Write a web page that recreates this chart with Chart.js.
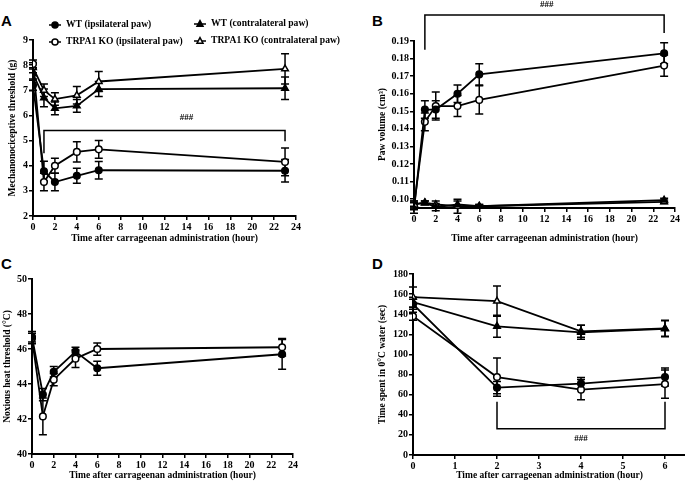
<!DOCTYPE html>
<html lang="en">
<head>
<meta charset="UTF-8">
<title>TRPA1 KO after carrageenan</title>
<script src="https://cdn.jsdelivr.net/npm/chart.js"></script>
<style>
  body { margin: 0; width: 685px; height: 485px; overflow: hidden; background: #fff; position: relative; }
  canvas { position: absolute; }
  .tag { position: absolute; font: bold 15px "Liberation Sans", Arial, sans-serif; line-height: 1; color: #000; }
</style>
</head>
<body>
<div class="tag" style="left:1px;top:13px">A</div>
<div class="tag" style="left:372px;top:13px">B</div>
<div class="tag" style="left:1px;top:256px">C</div>
<div class="tag" style="left:372px;top:256px">D</div>
<canvas id="chartA" width="345" height="250" style="left:0;top:0"></canvas>
<canvas id="chartB" width="345" height="250" style="left:340px;top:0"></canvas>
<canvas id="chartC" width="345" height="240" style="left:0;top:245px"></canvas>
<canvas id="chartD" width="360" height="240" style="left:340px;top:245px"></canvas>

<script>
// time points (hour)
const hours = [0, 1, 2, 4, 6, 23];
const coldHours = [0, 2, 4, 6];

const seriesNames = ["WT (ipsilateral paw)", "TRPA1 KO (ipsilateral paw)",
                     "WT (contralateral paw)", "TRPA1 KO (contralateral paw)"];

// A: mechanonociceptive threshold (g), mean and error
const mechWtIpsi = [7.2, 3.78, 3.35, 3.6, 3.82, 3.8];
const mechWtIpsiErr = [0.2, 0.4, 0.35, 0.3, 0.35, 0.45];
const mechKoIpsi = [8.05, 3.35, 4.0, 4.55, 4.65, 4.15];
const mechKoIpsiErr = [0.15, 0.35, 0.3, 0.4, 0.35, 0.55];
const mechWtContra = [7.65, 6.7, 6.28, 6.38, 7.05, 7.08];
const mechWtContraErr = [0.2, 0.35, 0.25, 0.25, 0.3, 0.45];
const mechKoContra = [7.9, 7.0, 6.65, 6.8, 7.35, 7.85];
const mechKoContraErr = [0.2, 0.25, 0.25, 0.35, 0.4, 0.6];

// B: paw volume (cm3)
const volWtIpsi = [0.094, 0.151, 0.151, 0.160, 0.171, 0.183];
const volWtIpsiErr = [0.002, 0.005, 0.005, 0.005, 0.006, 0.006];
const volKoIpsi = [0.096, 0.144, 0.153, 0.153, 0.1565, 0.176];
const volKoIpsiErr = [0.002, 0.005, 0.008, 0.006, 0.008, 0.006];
const volWtContra = [0.097, 0.098, 0.0955, 0.097, 0.096, 0.0995];
const volWtContraErr = [0.002, 0.001, 0.002, 0.002, 0.001, 0.001];
const volKoContra = [0.097, 0.098, 0.097, 0.096, 0.096, 0.0985];
const volKoContraErr = [0.002, 0.001, 0.002, 0.004, 0.001, 0.001];

// C: noxious heat threshold (degC)
const heatWt = [46.7, 43.4, 44.7, 45.85, 44.9, 45.7];
const heatWtErr = [0.3, 0.35, 0.3, 0.25, 0.4, 0.85];
const heatKo = [46.6, 42.15, 44.25, 45.45, 46.0, 46.1];
const heatKoErr = [0.3, 1.05, 0.35, 0.5, 0.35, 0.5];

// D: time spent in 0 degC water (sec)
const coldWtIpsi = [150, 67, 71, 77.5];
const coldWtIpsiErr = [5, 6, 6, 9];
const coldKoIpsi = [138, 77.5, 65, 70.5];
const coldKoIpsiErr = [4, 19, 10, 14];
const coldWtContra = [152, 128, 122, 125.5];
const coldWtContraErr = [5, 11, 7, 8];
const coldKoContra = [157, 153, 123, 126];
const coldKoContraErr = [10, 15, 6, 8];

// tick labels
const hourTicks = [0, 2, 4, 6, 8, 10, 12, 14, 16, 18, 20, 22, 24];
const coldHourTicks = [0, 1, 2, 3, 4, 5, 6];
const mechTicks = [2, 3, 4, 5, 6, 7, 8, 9];
const volTicks = [0.10, 0.11, 0.12, 0.13, 0.14, 0.15, 0.16, 0.17, 0.18, 0.19];
const heatTicks = [40, 42, 44, 46, 48, 50];
const coldTicks = [0, 20, 40, 60, 80, 100, 120, 140, 160, 180];

// significance brackets: [x from, x to], [left leg end, level, right leg end], mark position
const mechBracketX = [1, 23], mechBracketY = [4.5, 5.4, 4.97], mechMarkAt = [14, 5.9];
const volBracketX = [1, 23], volBracketY = [0.185, 0.2048, 0.1946], volMarkAt = [12.2, 0.2105];
const coldBracketX = [2, 6], coldBracketY = [53, 26, 53], coldMarkAt = [4, 16];

const tickFont = { family: "'Liberation Serif', 'Times New Roman', serif", size: 10, weight: "bold" };
const titleFont = { family: "'Liberation Serif', 'Times New Roman', serif", size: 9.5, weight: "bold" };

function drawMarker(ctx, style, open, x, y, r) {
    ctx.beginPath();
    if (style === "triangle") {
        ctx.moveTo(x, y - r * 1.15);
        ctx.lineTo(x + r, y + r * 0.75);
        ctx.lineTo(x - r, y + r * 0.75);
        ctx.closePath();
    } else {
        ctx.arc(x, y, r, 0, Math.PI * 2);
    }
    ctx.fillStyle = open ? "#fff" : "#000";
    ctx.fill();
    ctx.stroke();
}

const errorBars = {
    id: "errorBars",
    beforeDatasetsDraw(chart) {
        const ctx = chart.ctx, ys = chart.scales.y;
        ctx.save();
        ctx.strokeStyle = "#000";
        ctx.lineWidth = 1.5;
        chart.data.datasets.forEach((ds, di) => {
            chart.getDatasetMeta(di).data.forEach((pt, i) => {
                const v = ds.data[i].y, e = ds.err[i];
                const top = ys.getPixelForValue(v + e), bot = ys.getPixelForValue(v - e);
                ctx.beginPath();
                ctx.moveTo(pt.x, top); ctx.lineTo(pt.x, bot);
                ctx.moveTo(pt.x - 4, top); ctx.lineTo(pt.x + 4, top);
                ctx.moveTo(pt.x - 4, bot); ctx.lineTo(pt.x + 4, bot);
                ctx.stroke();
            });
        });
        ctx.restore();
    }
};

const bracket = {
    id: "bracket",
    afterDraw(chart, args, opts) {
        if (!opts.xs) return;
        const ctx = chart.ctx, xs = chart.scales.x, ys = chart.scales.y;
        const x1 = xs.getPixelForValue(opts.xs[0]), x2 = xs.getPixelForValue(opts.xs[1]);
        ctx.save();
        ctx.strokeStyle = "#000";
        ctx.lineWidth = 1.5;
        ctx.beginPath();
        ctx.moveTo(x1, ys.getPixelForValue(opts.ys[0]));
        ctx.lineTo(x1, ys.getPixelForValue(opts.ys[1]));
        ctx.lineTo(x2, ys.getPixelForValue(opts.ys[1]));
        ctx.lineTo(x2, ys.getPixelForValue(opts.ys[2]));
        ctx.stroke();
        ctx.fillStyle = "#000";
        ctx.font = "bold 9px 'Liberation Serif', serif";
        ctx.textAlign = "center";
        ctx.textBaseline = "middle";
        ctx.fillText("###", xs.getPixelForValue(opts.markAt[0]), ys.getPixelForValue(opts.markAt[1]));
        ctx.restore();
    }
};

// two-column legend of panel A
const keyBox = {
    id: "keyBox",
    afterDraw(chart, args, opts) {
        if (!opts.show) return;
        const ctx = chart.ctx;
        const spots = [[55, 25], [55, 42], [200, 24], [200, 41]];
        ctx.save();
        ctx.font = "bold 9.6px 'Liberation Serif', serif";
        ctx.textBaseline = "middle";
        chart.data.datasets.forEach((ds, i) => {
            const [x, y] = spots[i];
            ctx.strokeStyle = "#000";
            ctx.lineWidth = 1.5;
            ctx.beginPath();
            ctx.moveTo(x - 6, y); ctx.lineTo(x + 6, y);
            ctx.stroke();
            drawMarker(ctx, ds.pointStyle, ds.pointBackgroundColor === "#fff", x, y, 3);
            ctx.fillStyle = "#000";
            ctx.fillText(ds.label, x + 11, y);
        });
        ctx.restore();
    }
};

function series(label, xs, ys, err, style, open) {
    return {
        label: label,
        data: xs.map((h, i) => ({ x: h, y: ys[i] })),
        err: err,
        borderColor: "#000",
        borderWidth: 1.8,
        pointStyle: style,
        pointRadius: style === "triangle" ? 3.8 : 3.3,
        pointBackgroundColor: open ? "#fff" : "#000",
        pointBorderColor: "#000",
        pointBorderWidth: 1.5,
        tension: 0
    };
}

function axis(min, max, values, fmt, title, size, pad) {
    return {
        type: "linear", min: min, max: max,
        afterBuildTicks: s => { s.ticks = values.map(v => ({ value: v })); },
        afterFit: s => { if (s.isHorizontal()) s.height = size; else s.width = size; },
        ticks: { color: "#000", font: tickFont, padding: 1, autoSkip: false, maxRotation: 0,
                 callback: v => fmt(v) },
        grid: { drawOnChartArea: false, color: "#000", tickLength: 4, lineWidth: 1.5 },
        border: { color: "#000", width: 2 },
        title: { display: true, text: title, color: "#000", font: titleFont, padding: pad }
    };
}

const plain = v => String(v);
const xTitle = "Time after carrageenan administration (hour)";

function panel(id, datasets, xScale, yScale, padding, extra) {
    new Chart(document.getElementById(id), {
        type: "line",
        data: { datasets: datasets },
        options: {
            responsive: false,
            animation: false,
            layout: { padding: padding },
            scales: { x: xScale, y: yScale },
            plugins: Object.assign({ legend: { display: false }, tooltip: { enabled: false } }, extra)
        },
        plugins: [errorBars, bracket, keyBox]
    });
}

panel("chartA", [
        series(seriesNames[0], hours, mechWtIpsi, mechWtIpsiErr, "circle", false),
        series(seriesNames[1], hours, mechKoIpsi, mechKoIpsiErr, "circle", true),
        series(seriesNames[2], hours, mechWtContra, mechWtContraErr, "triangle", false),
        series(seriesNames[3], hours, mechKoContra, mechKoContraErr, "triangle", true)
    ],
    axis(0, 24, hourTicks, plain, xTitle, 34, { top: 0, bottom: 6 }),
    axis(2, 9, mechTicks, plain, "Mechanonociceptive threshold (g)", 33, { top: 7, bottom: 0 }),
    { left: 0, right: 49, top: 40, bottom: 0 },
    { bracket: { xs: mechBracketX, ys: mechBracketY, markAt: mechMarkAt }, keyBox: { show: true } });

panel("chartB", [
        series(seriesNames[0], hours, volWtIpsi, volWtIpsiErr, "circle", false),
        series(seriesNames[1], hours, volKoIpsi, volKoIpsiErr, "circle", true),
        series(seriesNames[2], hours, volWtContra, volWtContraErr, "triangle", false),
        series(seriesNames[3], hours, volKoContra, volKoContraErr, "triangle", true)
    ],
    axis(0, 24, hourTicks, plain, xTitle, 42, { top: 0, bottom: 6 }),
    axis(0.095, 0.19, volTicks, v => v.toFixed(2), "Paw volume (cm\u00B3)", 38, { top: 1, bottom: 0 }),
    { left: 36, right: 10, top: 41, bottom: 0 },
    { bracket: { xs: volBracketX, ys: volBracketY, markAt: volMarkAt } });

panel("chartC", [
        series(seriesNames[0], hours, heatWt, heatWtErr, "circle", false),
        series(seriesNames[1], hours, heatKo, heatKoErr, "circle", true)
    ],
    axis(0, 24, hourTicks, plain, xTitle, 31, { top: 0, bottom: 4 }),
    axis(40, 50, heatTicks, plain, "Noxious heat threshold (\u00B0C)", 32, { top: 2, bottom: 0 }),
    { left: 0, right: 52, top: 34, bottom: 0 },
    {});

panel("chartD", [
        series(seriesNames[0], coldHours, coldWtIpsi, coldWtIpsiErr, "circle", false),
        series(seriesNames[1], coldHours, coldKoIpsi, coldKoIpsiErr, "circle", true),
        series(seriesNames[2], coldHours, coldWtContra, coldWtContraErr, "triangle", false),
        series(seriesNames[3], coldHours, coldKoContra, coldKoContraErr, "triangle", true)
    ],
    axis(0, 6.5, coldHourTicks, plain, xTitle, 30, { top: 0, bottom: 4 }),
    axis(0, 180, coldTicks, plain, "Time spent in 0\u00B0C water (sec)", 37, { top: 1, bottom: 0 }),
    { left: 36, right: 14, top: 29, bottom: 0 },
    { bracket: { xs: coldBracketX, ys: coldBracketY, markAt: coldMarkAt } });
</script>
</body>
</html>
